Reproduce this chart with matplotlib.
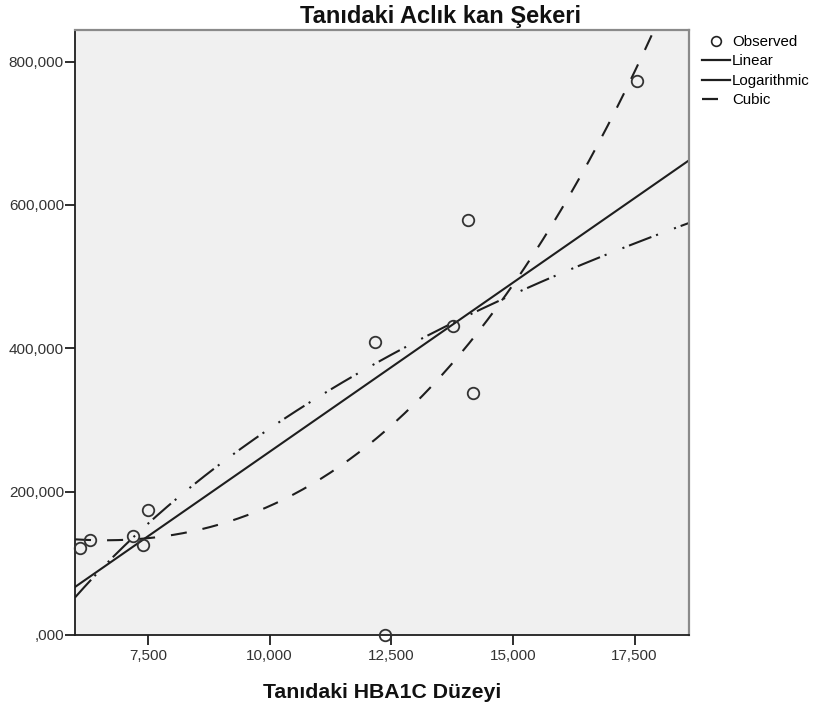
import numpy as np
import matplotlib
matplotlib.use("Agg")
import matplotlib.pyplot as plt
from matplotlib.lines import Line2D
from matplotlib.ticker import FuncFormatter

# =========================
# DATA
# =========================
hba1c = [6.10, 6.31, 7.19, 7.39, 7.50, 12.17, 12.37, 13.77, 14.07, 14.18, 17.56]
glucose = [120.8, 131.9, 137.5, 125.0, 175.0, 408.3, 0.0, 430.6, 579.2, 337.5, 772.2]

x_ticks = [7.5, 10.0, 12.5, 15.0, 17.5]
y_ticks = [0, 200, 400, 600, 800]

TITLE = "Tanıdaki Aclık kan Şekeri"
XLABEL = "Tanıdaki HBA1C Düzeyi"
LEGEND_LABELS = ["Observed", "Linear", "Logarithmic", "Cubic"]

plt.rcParams['font.family'] = ['Liberation Sans', 'DejaVu Sans']

# =========================
# CURVE ESTIMATION
# =========================
x = np.array(hba1c)
y = np.array(glucose)

lin = np.polyfit(x, y, 1)
logc = np.polyfit(np.log(x), y, 1)
# cubic: the x^2 term is dropped (collinear with x and x^3)
A = np.column_stack([np.ones_like(x), x, x ** 3])
cub, *_ = np.linalg.lstsq(A, y, rcond=None)

XMIN, XMAX = 6.0, 18.62
xs = np.linspace(XMIN, XMAX, 400)
y_lin = np.polyval(lin, xs)
y_log = np.polyval(logc, np.log(xs))
y_cub = cub[0] + cub[1] * xs + cub[2] * xs ** 3


def spss_fmt(v, pos=None):
    s = f"{v:.3f}".replace('.', ',')
    if s.startswith('0,'):
        s = s[1:]
    return s


# =========================
# PLOT
# =========================
fig = plt.figure(figsize=(8.16, 7.10), dpi=100)
ax = fig.add_axes([75 / 816, 1 - 635 / 710, 614 / 816, 605 / 710])
ax.set_facecolor('#f0f0f0')

LC = '#1e1e1e'
ax.plot(xs, y_lin, color=LC, lw=1.5, ls='-')
ax.plot(xs, y_log, color=LC, lw=1.5, ls=(0, (11.5, 2.4, 1, 8.2, 1, 2.4)))
ax.plot(xs, y_cub, color=LC, lw=1.5, ls=(0, (7.7, 7.7)))
ax.plot(x, y, ls='none', marker='o', ms=8.3, mfc='none', mec='#333333',
        mew=1.3, clip_on=False, zorder=5)

ax.set_xlim(XMIN, XMAX)
ax.set_ylim(0, 844)
ax.set_xticks(x_ticks)
ax.set_yticks(y_ticks)
ax.xaxis.set_major_formatter(FuncFormatter(spss_fmt))
ax.yaxis.set_major_formatter(FuncFormatter(spss_fmt))
ax.tick_params(direction='out', length=7.5, width=1.3, colors='#1e1e1e',
               labelsize=11, labelcolor='#333333')
ax.tick_params(axis='x', pad=2.5)
ax.tick_params(axis='y', pad=0.5)

for side in ['left', 'bottom']:
    ax.spines[side].set_color('#1e1e1e')
    ax.spines[side].set_linewidth(1.3)
for side in ['top', 'right']:
    ax.spines[side].set_color('#8a8a8a')
    ax.spines[side].set_linewidth(1.6)

fig.text(441 / 816, 1 - 22.5 / 710, TITLE, ha='center', va='baseline',
         fontsize=17, fontweight='bold', color='#111111')
fig.text(382 / 816, 1 - 692 / 710, XLABEL, ha='center', va='center',
         fontsize=15.3, fontweight='bold', color='#111111')

handles = [
    Line2D([], [], ls='none', marker='o', ms=7, mfc='none', mec='#222222', mew=1.2),
    Line2D([], [], color=LC, lw=1.6, ls='-'),
    Line2D([], [], color=LC, lw=1.6, ls='-'),
    Line2D([], [], color=LC, lw=1.6, ls=(0, (7.2, 10))),
]
fig.legend(handles, LEGEND_LABELS, loc='upper left',
           bbox_to_anchor=(702 / 816, 1 - 35 / 710),
           frameon=False, fontsize=10.8, handlelength=1.85, handletextpad=0.15,
           labelspacing=0.36, borderaxespad=0, borderpad=0)

fig.savefig("out.png", dpi=100)
